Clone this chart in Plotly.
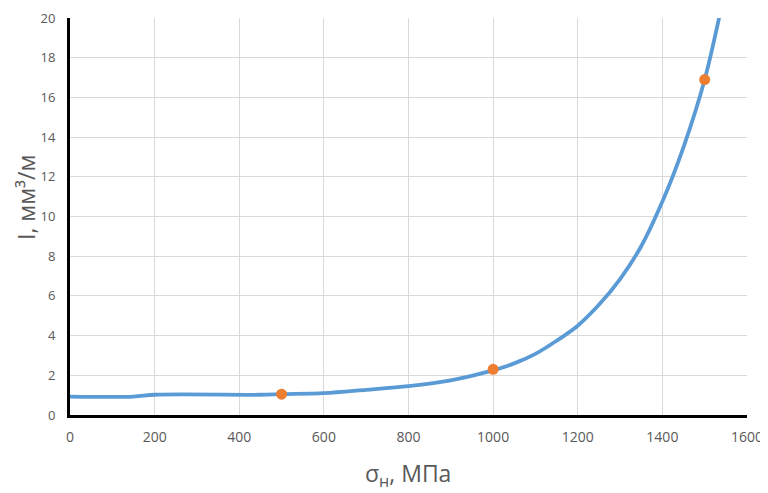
import plotly.graph_objects as go

# curve data
sigma = [0, 150, 200, 450, 500, 600, 700, 800, 900, 1000, 1050, 1100, 1150, 1200, 1250, 1300, 1350, 1400, 1450, 1500, 1550]
wear = [0.93, 0.93, 1.02, 1.02, 1.05, 1.1, 1.27, 1.46, 1.75, 2.25, 2.6, 3.08, 3.74, 4.5, 5.55, 6.85, 8.5, 10.75, 13.5, 16.9, 21.6]

# experimental points
sigma_pts = [500, 1000, 1500]
wear_pts = [1.05, 2.3, 16.9]

x_ticks = [0, 200, 400, 600, 800, 1000, 1200, 1400, 1600]
y_ticks = [0, 2, 4, 6, 8, 10, 12, 14, 16, 18, 20]

# page body has an 8px default margin; the figure is sized to fit the window
OFF = 8
W, H = 768 - OFF, 493 - OFF
L, R, T, B = 70 - OFF, 21, 18 - OFF, 78

fig = go.Figure()
fig.add_trace(go.Scatter(x=sigma, y=wear, mode="lines",
                         line=dict(color="#5b9bd5", width=3.8, shape="spline", smoothing=0.9),
                         showlegend=False))
fig.add_trace(go.Scatter(x=sigma_pts, y=wear_pts, mode="markers",
                         marker=dict(color="#ed7d31", size=11), showlegend=False))

font_family = "Open Sans, Liberation Sans, sans-serif"
fig.update_layout(
    width=W, height=H,
    margin=dict(l=L, r=R, t=T, b=B, autoexpand=False),
    paper_bgcolor="white", plot_bgcolor="white",
    font=dict(family=font_family, color="#595959"),
    xaxis=dict(range=[0, 1600], tickvals=x_ticks, showgrid=True, gridcolor="#d9d9d9", gridwidth=1,
               showline=True, linecolor="black", linewidth=3, zeroline=False, automargin=False,
               tickfont=dict(size=14, color="#595959"), ticks="", ticklabelstandoff=7),
    yaxis=dict(range=[0, 20], tickvals=y_ticks, showgrid=True, gridcolor="#d9d9d9", gridwidth=1,
               showline=True, linecolor="black", linewidth=3, zeroline=False, automargin=False,
               tickfont=dict(size=13, color="#595959"), ticks="", ticklabelstandoff=9),
    annotations=[
        dict(text="σ<sub>н</sub>, МПа", xref="paper", yref="paper",
             x=(408 - 70) / (747 - 70), y=-(474 - 415) / (415 - 18),
             xanchor="center", yanchor="middle", showarrow=False,
             font=dict(size=23, color="#595959")),
        dict(text="I, мм³/м", xref="paper", yref="paper",
             x=-(70 - 26) / (747 - 70), y=(415 - 198) / (415 - 18),
             xanchor="center", yanchor="middle", textangle=-90, showarrow=False,
             font=dict(size=23, color="#595959")),
    ],
)
fig.write_html("out.html")
